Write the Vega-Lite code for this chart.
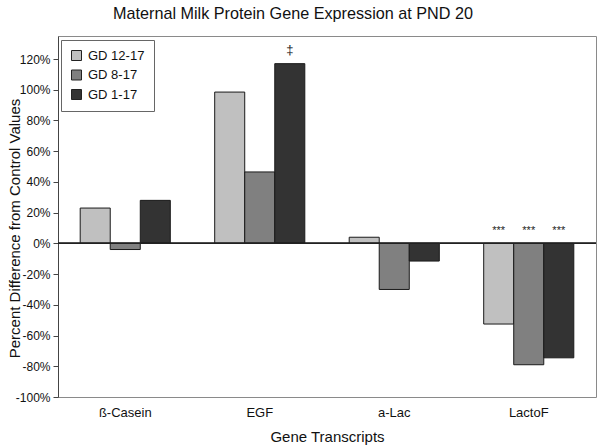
{
  "$schema": "https://vega.github.io/schema/vega-lite/v6.json",
  "width": 538,
  "height": 361,
  "autosize": {"type": "none"},
  "padding": {"left": 58, "top": 36, "right": 4, "bottom": 51},
  "background": "white",
  "config": {
    "font": "Liberation Sans",
    "view": {"stroke": "#8a8a8a", "strokeWidth": 1},
    "axis": {"labelOverlap": false},
    "axisY": {
      "titleFontSize": 15,
      "titleFontWeight": "normal",
      "titleColor": "#111",
      "titleX": -44,
      "titleY": 192,
      "titleAlign": "center",
      "titleBaseline": "middle",
      "titleAngle": -90,
      "labelOverlap": false,
      "labelFontSize": 12,
      "labelColor": "#111",
      "labelPadding": 3,
      "tickSize": 5,
      "tickColor": "#444",
      "domainColor": "#444",
      "grid": false
    }
  },
  "title": {
    "text": "Maternal Milk Protein Gene Expression at PND 20",
    "fontSize": 16.2,
    "fontWeight": "normal",
    "color": "#111",
    "dx": -34,
    "offset": 14
  },
  "data": {
    "values": [
      {"gene": "ß-Casein", "group": "GD 12-17", "value": 23, "note": ""},
      {"gene": "ß-Casein", "group": "GD 8-17", "value": -4, "note": ""},
      {"gene": "ß-Casein", "group": "GD 1-17", "value": 28, "note": ""},
      {"gene": "EGF", "group": "GD 12-17", "value": 98.5, "note": ""},
      {"gene": "EGF", "group": "GD 8-17", "value": 46.5, "note": ""},
      {"gene": "EGF", "group": "GD 1-17", "value": 117, "note": "‡"},
      {"gene": "a-Lac", "group": "GD 12-17", "value": 4, "note": ""},
      {"gene": "a-Lac", "group": "GD 8-17", "value": -30, "note": ""},
      {"gene": "a-Lac", "group": "GD 1-17", "value": -11.5, "note": ""},
      {"gene": "LactoF", "group": "GD 12-17", "value": -52.5, "note": "***"},
      {"gene": "LactoF", "group": "GD 8-17", "value": -79, "note": "***"},
      {"gene": "LactoF", "group": "GD 1-17", "value": -74.5, "note": "***"}
    ]
  },
  "encoding": {
    "x": {
      "field": "gene",
      "type": "nominal",
      "sort": ["ß-Casein", "EGF", "a-Lac", "LactoF"],
      "scale": {"paddingInner": 0.33, "paddingOuter": 0.165},
      "axis": {
        "title": "Gene Transcripts",
        "titleFontSize": 15,
        "titleFontWeight": "normal",
        "titleColor": "#111",
        "titlePadding": 10,
        "labelAngle": 0,
        "labelFontSize": 13,
        "labelColor": "#111",
        "labelPadding": 9,
        "ticks": false,
        "domain": false,
        "grid": false
      }
    },
    "xOffset": {
      "field": "group",
      "type": "nominal",
      "sort": ["GD 12-17", "GD 8-17", "GD 1-17"],
      "scale": {"paddingInner": 0, "paddingOuter": 0}
    }
  },
  "layer": [
    {
      "mark": {"type": "bar", "stroke": "#1a1a1a", "strokeWidth": 1},
      "encoding": {
        "y": {
          "field": "value",
          "type": "quantitative",
          "scale": {"domain": [-100, 135], "nice": false, "zero": false},
          "axis": {
            "title": "Percent Difference from Control Values",
            "values": [-100, -80, -60, -40, -20, 0, 20, 40, 60, 80, 100, 120],
            "labelExpr": "datum.value + '%'",
            "labelOverlap": false
          }
        },
        "color": {
          "field": "group",
          "type": "nominal",
          "sort": ["GD 12-17", "GD 8-17", "GD 1-17"],
          "scale": {"domain": ["GD 12-17", "GD 8-17", "GD 1-17"], "range": ["#c0c0c0", "#808080", "#333333"]},
          "legend": {
            "title": null,
            "orient": "none",
            "legendX": 3,
            "legendY": 4,
            "symbolType": "square",
            "symbolSize": 100,
            "symbolStrokeColor": "#222",
            "symbolStrokeWidth": 1,
            "labelFontSize": 13,
            "labelColor": "#111",
            "labelOffset": 5,
            "rowPadding": 4.5,
            "padding": 9,
            "strokeColor": "#666",
            "fillColor": "white"
          }
        }
      }
    },
    {
      "mark": {"type": "rule", "color": "#222", "strokeWidth": 1},
      "encoding": {
        "y": {"datum": 0, "type": "quantitative", "axis": {"title": "Percent Difference from Control Values", "values": [-100, -80, -60, -40, -20, 0, 20, 40, 60, 80, 100, 120], "labelExpr": "datum.value + '%'", "labelOverlap": false}},
        "x": {"value": 0},
        "x2": {"value": 538},
        "xOffset": null
      }
    },
    {
      "transform": [{"filter": "datum.note == '***'"}],
      "mark": {"type": "text", "fontSize": 11, "color": "#222", "dy": -12},
      "encoding": {
        "y": {"datum": 0, "type": "quantitative", "axis": {"title": "Percent Difference from Control Values", "values": [-100, -80, -60, -40, -20, 0, 20, 40, 60, 80, 100, 120], "labelExpr": "datum.value + '%'", "labelOverlap": false}},
        "text": {"field": "note"}
      }
    },
    {
      "transform": [{"filter": "datum.note == '‡'"}],
      "mark": {"type": "text", "fontSize": 13, "color": "#222", "dy": -14},
      "encoding": {
        "y": {"field": "value", "type": "quantitative", "axis": {"title": "Percent Difference from Control Values", "values": [-100, -80, -60, -40, -20, 0, 20, 40, 60, 80, 100, 120], "labelExpr": "datum.value + '%'", "labelOverlap": false}},
        "text": {"field": "note"}
      }
    }
  ]
}
